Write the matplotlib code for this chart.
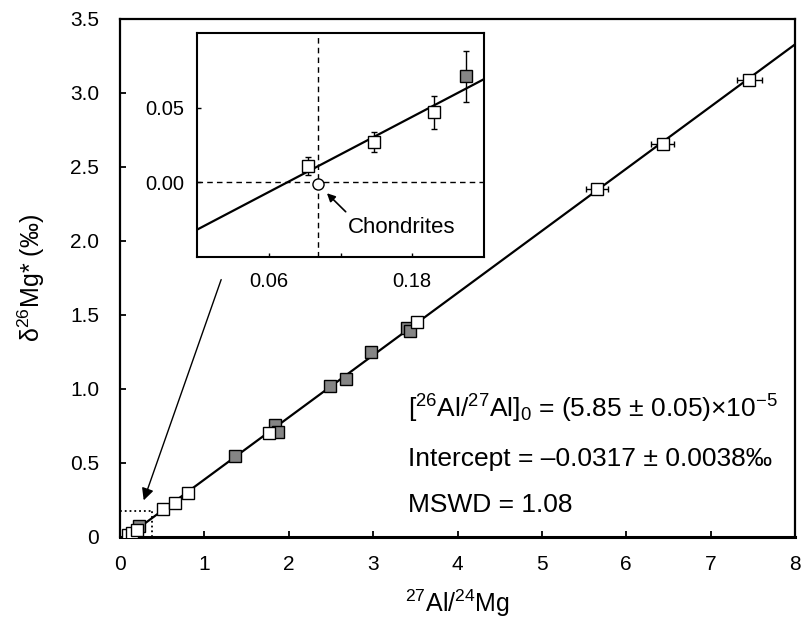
import numpy as np
import matplotlib
matplotlib.use('Agg')
import matplotlib.pyplot as plt

plt.rcParams['font.family'] = ['Liberation Sans', 'DejaVu Sans']
plt.rcParams['mathtext.fontset'] = 'custom'
plt.rcParams['mathtext.rm'] = 'Liberation Sans'
plt.rcParams['mathtext.it'] = 'Liberation Sans:italic'
plt.rcParams['mathtext.bf'] = 'Liberation Sans:bold'

# open squares
white_x = [0.093, 0.148, 0.198, 0.51, 0.65, 0.81, 1.76, 3.52, 5.65, 6.43, 7.46]
white_y = [0.011, 0.027, 0.047, 0.19, 0.23, 0.30, 0.70, 1.45, 2.35, 2.655, 3.09]
white_xerr = [0, 0, 0, 0, 0, 0, 0, 0, 0.13, 0.14, 0.15]
white_yerr = [0.006, 0.007, 0.011, 0, 0, 0, 0, 0, 0, 0, 0]

# grey squares
grey_x = [0.225, 1.36, 1.84, 1.87, 2.49, 2.68, 2.98, 3.40, 3.44]
grey_y = [0.071, 0.55, 0.76, 0.71, 1.02, 1.07, 1.25, 1.41, 1.39]
grey_yerr = [0.017, 0, 0, 0, 0, 0, 0, 0, 0]

# isochron
fit_intercept = -0.0317
fit_slope = 0.42
chondrite = (0.101, -0.001)

x_ticks = [0, 1, 2, 3, 4, 5, 6, 7, 8]
y_ticks = [0, 0.5, 1.0, 1.5, 2.0, 2.5, 3.0, 3.5]
y_labels = ['0', '0.5', '1.0', '1.5', '2.0', '2.5', '3.0', '3.5']

GREY = '#858585'


def draw_points(ax, ms):
    xs = np.linspace(0, 8, 200)
    ax.plot(xs, fit_intercept + fit_slope * xs, color='black', lw=1.6, zorder=2)
    ax.errorbar(white_x, white_y, xerr=white_xerr, yerr=white_yerr, fmt='none',
                ecolor='black', elinewidth=1, capsize=2, capthick=1, zorder=3)
    ax.errorbar(grey_x, grey_y, yerr=grey_yerr, fmt='none',
                ecolor='black', elinewidth=1, capsize=2, capthick=1, zorder=3)
    ax.plot(grey_x, grey_y, 's', ms=ms, mfc=GREY, mec='black', mew=1, ls='none', zorder=4)
    ax.plot(white_x, white_y, 's', ms=ms, mfc='white', mec='black', mew=1, ls='none', zorder=5)


fig = plt.figure(figsize=(8.02, 6.23), dpi=100)
ax = fig.add_axes([120 / 802, 1 - 537 / 623, 675 / 802, 518 / 623])
draw_points(ax, 9)
ax.set_xlim(0, 8)
ax.set_ylim(0, 3.5)
ax.set_xticks(x_ticks)
ax.set_yticks(y_ticks)
ax.set_yticklabels(y_labels)
ax.tick_params(direction='in', length=4, width=1.3, labelsize=15)
ax.tick_params(axis='x', pad=13)
ax.tick_params(axis='y', pad=15)
for s in ax.spines.values():
    s.set_linewidth(1.6)
ax.spines['bottom'].set_linewidth(2.2)

ax.set_xlabel('$^{27}$Al/$^{24}$Mg', fontsize=18, va='top')
ax.xaxis.set_label_coords(0.5, -0.098)
ax.set_ylabel('δ$^{26}$Mg* (‰)', fontsize=18)
ax.yaxis.set_label_coords(-0.108, 0.5)

# zoom box and arrow
ax.plot([0, 0.38], [0.176, 0.176], color='black', ls=':', lw=1.3, zorder=1)
ax.plot([0.38, 0.38], [0, 0.176], color='black', ls=':', lw=1.3, zorder=1)
ax.annotate('', xy=(0.27, 0.23), xytext=(1.21, 1.757),
            arrowprops=dict(arrowstyle='-|>', color='black', lw=1, mutation_scale=18))

fig.text(408 / 802, 1 - 418 / 623,
         r'$\mathrm{[^{26}Al/^{27}Al]_0}$ = (5.85 ± 0.05)×10$^{-5}$',
         fontsize=19, ha='left', va='baseline')
fig.text(408 / 802, 1 - 466 / 623, 'Intercept = –0.0317 ± 0.0038‰',
         fontsize=19, ha='left', va='baseline')
fig.text(408 / 802, 1 - 512 / 623, 'MSWD = 1.08',
         fontsize=19, ha='left', va='baseline')

# inset
axi = fig.add_axes([197 / 802, 1 - 257 / 623, 287 / 802, 224 / 623])
draw_points(axi, 9)
axi.axhline(0, color='black', ls='--', lw=1, dashes=(4, 3), zorder=1)
axi.axvline(chondrite[0], color='black', ls='--', lw=1, dashes=(4, 3), zorder=1)
axi.plot(*chondrite, 'o', ms=8, mfc='white', mec='black', mew=1, zorder=6)
axi.annotate('', xy=(0.107, -0.006), xytext=(0.126, -0.021),
             arrowprops=dict(arrowstyle='-|>', color='black', lw=1.2, mutation_scale=12))
axi.text(0.126, -0.030, 'Chondrites', fontsize=16, ha='left', va='center')
axi.set_xlim(0, 0.24)
axi.set_ylim(-0.05, 0.10)
axi.set_xticks([0.06, 0.12, 0.18])
axi.set_xticklabels(['0.06', '', '0.18'])
axi.set_yticks([0.0, 0.05])
axi.set_yticklabels(['0.00', '0.05'])
axi.tick_params(direction='in', length=3, width=1, labelsize=14.5)
axi.tick_params(axis='x', pad=11)
axi.tick_params(axis='y', pad=9)
for s in axi.spines.values():
    s.set_linewidth(1.5)

fig.savefig('out.png', dpi=100)
